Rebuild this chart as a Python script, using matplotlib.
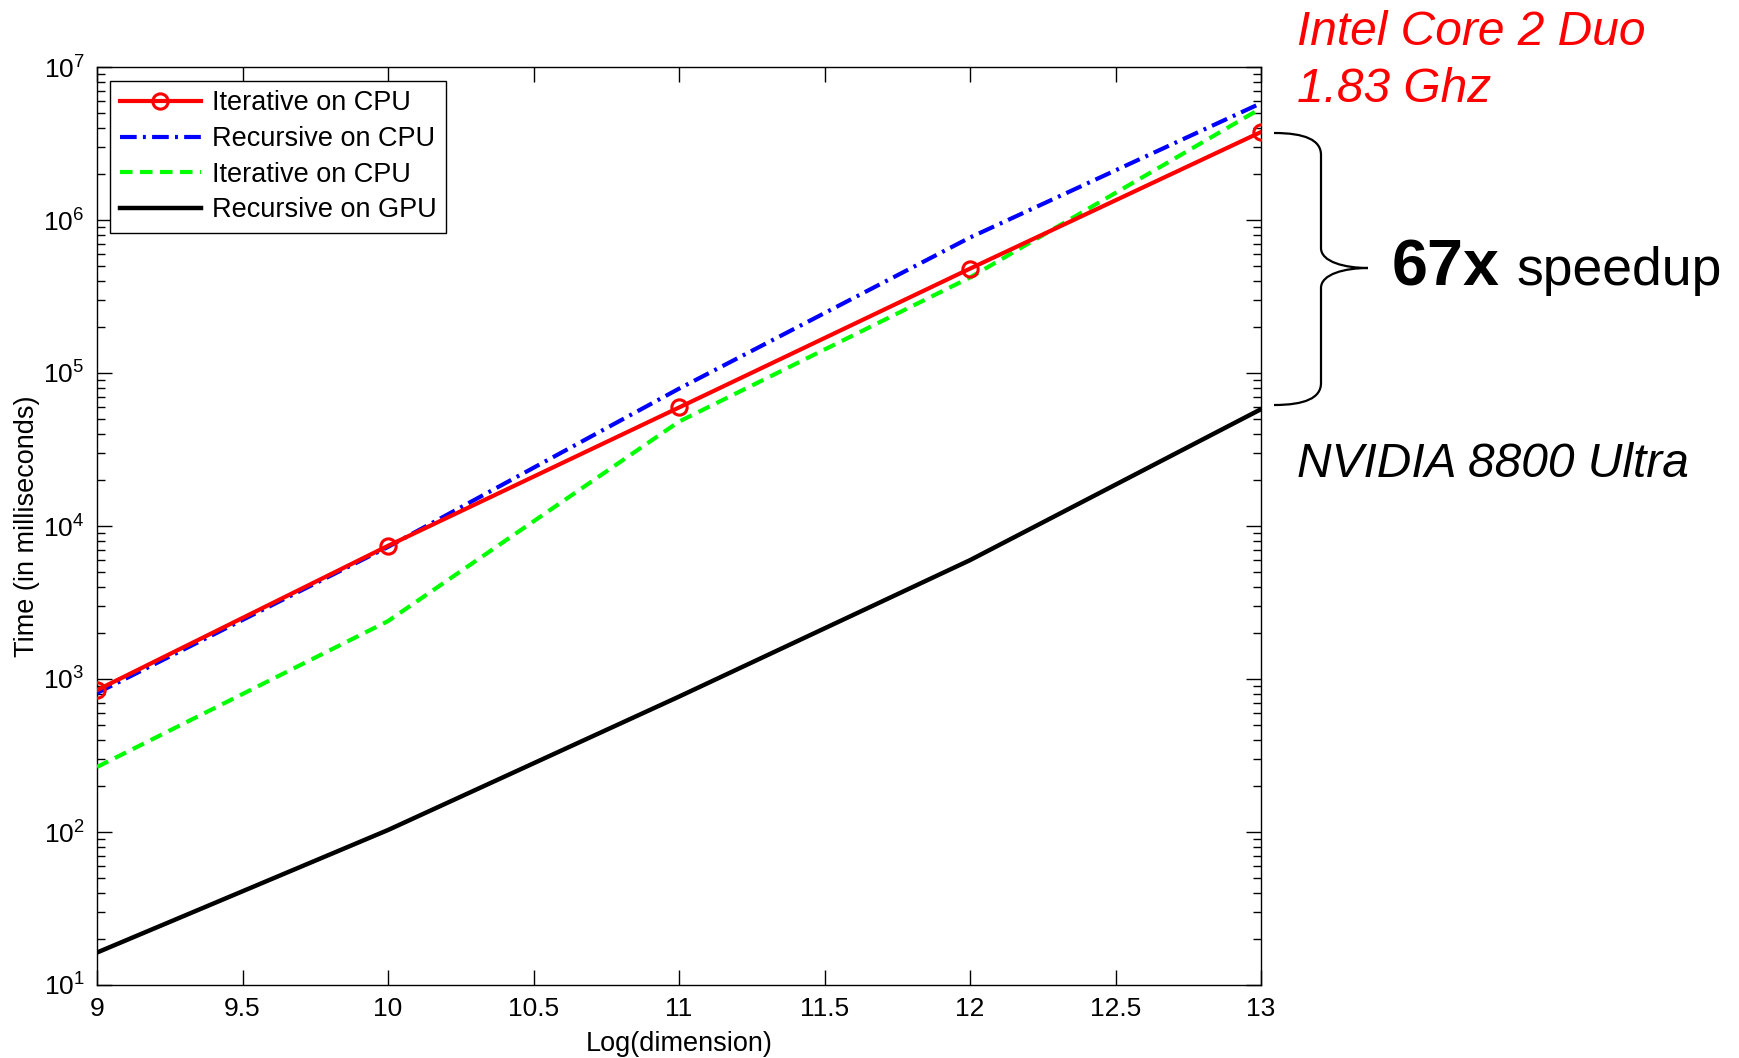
import matplotlib
matplotlib.use("Agg")
from matplotlib import pyplot as plt
from matplotlib.path import Path
from matplotlib.patches import PathPatch
from matplotlib.ticker import NullFormatter, FixedLocator

plt.rcParams['font.family'] = ['Liberation Sans', 'DejaVu Sans']
plt.rcParams['mathtext.default'] = 'regular'

dims = [9, 10, 11, 12, 13]
iter_cpu = [846, 7420, 59500, 481000, 3760000]
rec_cpu = [810, 7300, 79000, 768000, 5800000]
iter_cpu2 = [266, 2390, 48100, 421000, 5370000]
rec_gpu = [16.3, 103, 767, 5980, 58000]

labels = ["Iterative on CPU", "Recursive on CPU", "Iterative on CPU", "Recursive on GPU"]
xticks = [9, 9.5, 10, 10.5, 11, 11.5, 12, 12.5, 13]
xticklabels = ['9', '9.5', '10', '10.5', '11', '11.5', '12', '12.5', '13']
yexps = [1, 2, 3, 4, 5, 6, 7]

W, H = 1739, 1058
fig = plt.figure(figsize=(W / 100, H / 100), dpi=100)
ax = fig.add_axes([97 / W, 1 - 985 / H, 1164 / W, 918 / H])

ax.plot(dims, iter_cpu, color='red', lw=3, marker='o', ms=11, mfc='none', mew=2.2,
        label=labels[0], zorder=5)
ax.plot(dims, rec_cpu, color='blue', lw=3, ls=(0, (4, 1.5, 0.7, 1.5)), label=labels[1], zorder=4)
ax.plot(dims, iter_cpu2, color='#00ff00', lw=3, ls=(0, (3, 1.8)), label=labels[2], zorder=3)
ax.plot(dims, rec_gpu, color='black', lw=3.2, label=labels[3], zorder=2)

ax.set_yscale('log')
ax.set_xlim(9, 13)
ax.set_ylim(10, 1e7)
ax.set_yticks([10.0 ** e for e in yexps])
ax.set_yticklabels(['$10^{%d}$' % e for e in yexps])
ax.yaxis.set_minor_locator(FixedLocator([m * 10.0 ** e for e in yexps[:-1] for m in range(2, 10)]))
ax.yaxis.set_minor_formatter(NullFormatter())
ax.set_xticks(xticks)
ax.set_xticklabels(xticklabels)
ax.tick_params(which='both', direction='in', top=True, right=True, labelsize=19, width=1)
ax.tick_params(which='major', length=11, pad=9)
ax.tick_params(which='minor', length=6)
for s in ax.spines.values():
    s.set_linewidth(1)

ax.set_xlabel('Log(dimension)', fontsize=19.5, labelpad=7)
ax.set_ylabel('Time (in milliseconds)', fontsize=19.5, labelpad=2)

leg = ax.legend(loc='upper left', bbox_to_anchor=(0.0112, 0.985), borderaxespad=0,
                fontsize=19.5, handlelength=3.0, labelspacing=0.36, handletextpad=0.4,
                fancybox=False, edgecolor='black', framealpha=1, borderpad=0.35)
leg.get_frame().set_linewidth(1)


def fx(x):
    return x / W


def fy(y):
    return 1 - y / H


# annotations to the right of the plot
fig.text(fx(1297), fy(45), 'Intel Core 2 Duo', color='red', fontsize=34.5, style='italic', va='baseline')
fig.text(fx(1297), fy(102), '1.83 Ghz', color='red', fontsize=34.5, style='italic', va='baseline')
fig.text(fx(1392), fy(285), '67x', color='black', fontsize=46.5, weight='bold', va='baseline')
fig.text(fx(1516), fy(285), 'speedup', color='black', fontsize=38.5, va='baseline')
fig.text(fx(1297), fy(477), 'NVIDIA 8800 Ultra', color='black', fontsize=34.5, style='italic', va='baseline')

# curly brace
pts = [(1274, 133), (1305, 133), (1321, 140), (1321, 155),
       (1321, 248), (1321, 262), (1345, 268), (1368, 268),
       (1345, 268), (1321, 274), (1321, 288),
       (1321, 383), (1321, 398), (1305, 405), (1274, 405)]
codes = [Path.MOVETO, Path.CURVE4, Path.CURVE4, Path.CURVE4,
         Path.LINETO, Path.CURVE4, Path.CURVE4, Path.CURVE4,
         Path.CURVE4, Path.CURVE4, Path.CURVE4,
         Path.LINETO, Path.CURVE4, Path.CURVE4, Path.CURVE4]
brace = Path([(fx(x), fy(y)) for x, y in pts], codes)
fig.patches.append(PathPatch(brace, transform=fig.transFigure, fill=False, lw=1.6, color='black'))

fig.savefig('out.png', dpi=100)
